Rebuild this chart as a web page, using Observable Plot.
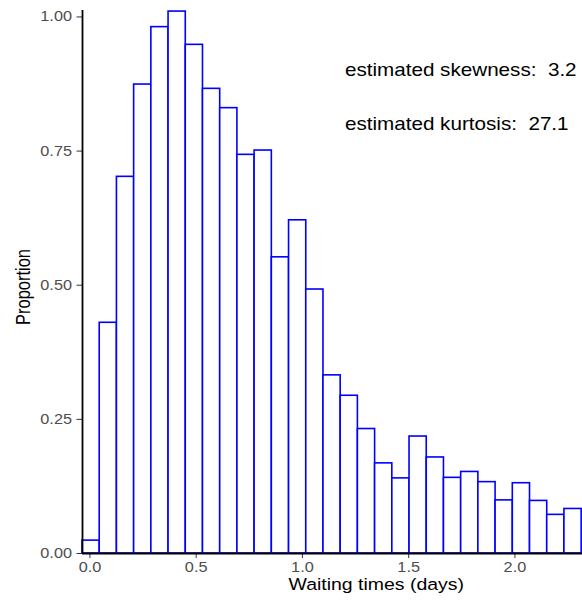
<!DOCTYPE html>
<html>
<head>
<meta charset="utf-8">
<script src="https://cdn.jsdelivr.net/npm/d3@7"></script>
<script src="https://cdn.jsdelivr.net/npm/@observablehq/plot@0.6"></script>
<style>
  body { margin: 0; background: #fff; }
  #chart svg { display: block; }
</style>
</head>
<body>
<div id="chart"></div>
<script>
// Histogram of waiting times: left edge of each bin (days) and its height
const binStart = [-0.035, 0.046, 0.127, 0.208, 0.289, 0.370, 0.451, 0.532, 0.613, 0.694,
                  0.775, 0.856, 0.937, 1.018, 1.099, 1.180, 1.261, 1.342, 1.423, 1.504,
                  1.585, 1.666, 1.747, 1.828, 1.909, 1.990, 2.071, 2.152, 2.233];
const binWidth = 0.081;
const proportion = [0.024, 0.430, 0.702, 0.874, 0.981, 1.010, 0.948, 0.866, 0.830, 0.743,
                    0.751, 0.552, 0.621, 0.492, 0.332, 0.294, 0.232, 0.168, 0.140, 0.218,
                    0.179, 0.141, 0.152, 0.133, 0.099, 0.131, 0.098, 0.072, 0.083];

// Axis ticks
const xTicks = [0, 0.5, 1, 1.5, 2];
const yTicks = [0, 0.25, 0.5, 0.75, 1];

// Summary statistics written on the panel
const notes = ["estimated skewness:  3.2", "estimated kurtosis:  27.1"];
const noteX = [1.2, 1.2];
const noteY = [0.9, 0.8];

const bins = binStart.map((x1, i) => ({
  x1,
  x2: i + 1 < binStart.length ? binStart[i + 1] : x1 + binWidth,
  p: proportion[i]
}));

const FONT = '"Liberation Sans", Arial, Helvetica, sans-serif';

const chart = Plot.plot({
  width: 582,
  height: 600,
  marginTop: 10,
  marginRight: 0,
  marginBottom: 47,
  marginLeft: 82,
  style: { fontFamily: FONT, background: "white", overflow: "visible" },
  x: { domain: [binStart[0], 2.318] },
  y: { domain: [0, 1.012] },
  marks: [
    Plot.rectY(bins, { x1: "x1", x2: "x2", y: "p", fill: "white", stroke: "#0000ff", strokeWidth: 1.6 }),
    Plot.axisY({ ticks: yTicks, tickFormat: d => d.toFixed(2), tickSize: 5.5, tickPadding: 5,
                 fontSize: 13.8, color: "#4d4d4d", stroke: "#333", label: null }),
    Plot.axisX({ ticks: xTicks, tickFormat: d => d.toFixed(1), tickSize: 5, tickPadding: 4,
                 fontSize: 13.8, color: "#4d4d4d", stroke: "#333", label: null }),
    Plot.ruleX([binStart[0]], { stroke: "black", strokeWidth: 1.8 }),
    Plot.ruleY([0], { stroke: "black", strokeWidth: 1.8 }),
    Plot.text(notes, { x: noteX, y: noteY, text: d => d, textAnchor: "start",
                       fontSize: 17.5, fill: "black" }),
    Plot.text(["Proportion"], { text: d => d, frameAnchor: "left", textAnchor: "middle",
                                lineAnchor: "middle", rotate: -90, dx: -59, dy: 5,
                                fontSize: 16.5, fill: "black" }),
    Plot.text(["Waiting times (days)"], { text: d => d, frameAnchor: "bottom", textAnchor: "start",
                                          lineAnchor: "middle", dx: -44, dy: 31,
                                          fontSize: 16.5, fill: "black" })
  ]
});

// Widen the lettering horizontally and keep repeated spaces
const SX = 1.18;
chart.querySelectorAll("text").forEach(t => {
  const tr = t.getAttribute("transform");
  if (tr) {
    t.setAttribute("transform", tr + (/rotate\(-?90\)/.test(tr) ? ` scale(1,${SX})` : ` scale(${SX},1)`));
  } else {
    const x = +t.getAttribute("x") || 0, y = +t.getAttribute("y") || 0;
    t.removeAttribute("x");
    t.removeAttribute("y");
    t.setAttribute("transform", `translate(${x},${y}) scale(${SX},1)`);
  }
  t.style.whiteSpace = "pre";
});

document.getElementById("chart").appendChild(chart);
</script>
</body>
</html>
